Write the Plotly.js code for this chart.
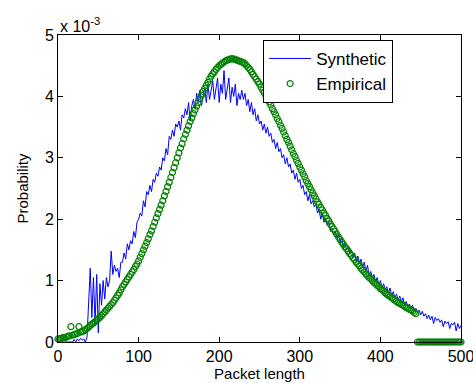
<!DOCTYPE html>
<html>
<head>
<meta charset="utf-8">
<script src="https://cdn.plot.ly/plotly-3.0.1.min.js"></script>
<style>
  html, body { margin: 0; padding: 0; background: #fff; }
  #chart { width: 473px; height: 383px; }
</style>
</head>
<body>
<div id="chart"></div>
<script>
// Packet length grid: starts at 0, step 2
const xStart = 0;
const xStep = 2;

// Probability values in units of 1e-3 (axis multiplier "x 10^-3")
const synthetic = [
  0,0,0,0,0,0,0,0,0,0,
  0.04,0,0.05,0.02,0.06,0.03,0.05,0,0.08,0.6,
  1.2,0.4,1.05,0.3,1.1,0.15,0.95,0.6,1.0,0.7,
  1.05,0.9,1.0,1.48,1.1,1.25,1.15,1.2,1.05,1.3,
  1.3,1.45,1.35,1.6,1.5,1.65,1.6,1.8,1.7,1.95,
  2.0,2.1,2.05,2.3,2.2,2.45,2.4,2.55,2.45,2.65,
  2.6,2.75,2.7,2.85,2.8,3.0,2.95,3.15,3.05,3.35,
  3.3,3.45,3.35,3.55,3.5,3.6,3.45,3.7,3.65,3.8,
  3.7,3.9,3.6,3.85,3.95,3.8,4.05,3.9,4.1,3.85,
  4.0,4.15,3.9,4.2,3.95,4.1,4.25,3.95,4.15,4.3,
  3.9,4.2,4.05,4.42,3.95,4.1,4.3,3.9,4.15,4.0,
  4.2,3.85,4.05,3.95,4.1,3.95,4.05,3.85,3.95,3.75,
  3.9,3.7,3.8,3.6,3.7,3.55,3.6,3.45,3.55,3.4,
  3.5,3.35,3.4,3.25,3.3,3.15,3.25,3.1,3.15,3.0,
  3.05,2.9,3.0,2.85,2.9,2.75,2.8,2.65,2.75,2.6,
  2.65,2.5,2.55,2.4,2.45,2.3,2.4,2.25,2.3,2.2,
  2.25,2.1,2.15,2.0,2.1,1.95,2.0,1.9,1.95,1.8,
  1.85,1.75,1.8,1.7,1.75,1.62,1.7,1.55,1.6,1.5,
  1.55,1.45,1.5,1.38,1.45,1.32,1.4,1.28,1.35,1.22,
  1.3,1.15,1.25,1.08,1.15,1.05,1.1,0.98,1.05,0.92,
  1.0,0.88,0.95,0.85,0.9,0.8,0.88,0.75,0.82,0.72,
  0.78,0.68,0.75,0.65,0.72,0.6,0.66,0.58,0.62,0.55,
  0.6,0.5,0.55,0.48,0.52,0.44,0.5,0.42,0.46,0.38,
  0.44,0.36,0.42,0.3,0.4,0.35,0.38,0.32,0.36,0.25,
  0.34,0.3,0.33,0.22,0.3,0.28,0.32,0.18,0.3,0.22,
  0.27
];

const empirical = [
  0.05,0.05,0.06,0.07,0.07,0.08,0.09,0.10,0.25,0.11,
  0.12,0.13,0.14,0.25,0.16,0.17,0.18,0.20,0.22,0.24,
  0.27,0.29,0.31,0.33,0.35,0.38,0.40,0.43,0.46,0.49,
  0.52,0.55,0.58,0.61,0.64,0.68,0.72,0.76,0.80,0.85,
  0.90,0.94,0.98,1.02,1.06,1.10,1.14,1.18,1.23,1.27,
  1.32,1.38,1.44,1.50,1.56,1.62,1.68,1.75,1.81,1.88,
  1.95,2.02,2.09,2.16,2.23,2.30,2.38,2.45,2.53,2.60,
  2.68,2.76,2.84,2.92,3.00,3.08,3.16,3.23,3.31,3.38,
  3.45,3.52,3.59,3.65,3.72,3.78,3.84,3.90,3.96,4.02,
  4.08,4.13,4.18,4.23,4.28,4.33,4.37,4.40,4.44,4.47,
  4.50,4.52,4.54,4.56,4.58,4.59,4.60,4.61,4.61,4.61,
  4.60,4.59,4.58,4.57,4.56,4.55,4.53,4.50,4.47,4.44,
  4.40,4.36,4.32,4.28,4.24,4.20,4.15,4.10,4.06,4.01,
  3.96,3.91,3.86,3.80,3.75,3.70,3.64,3.59,3.53,3.48,
  3.42,3.36,3.30,3.25,3.19,3.13,3.07,3.02,2.96,2.91,
  2.85,2.80,2.74,2.69,2.63,2.58,2.53,2.48,2.43,2.38,
  2.33,2.28,2.24,2.19,2.15,2.10,2.06,2.01,1.97,1.92,
  1.88,1.84,1.80,1.75,1.71,1.67,1.63,1.59,1.55,1.52,
  1.48,1.44,1.41,1.37,1.34,1.30,1.27,1.24,1.20,1.17,
  1.14,1.11,1.08,1.05,1.03,1.00,0.97,0.95,0.92,0.90,
  0.87,0.85,0.83,0.80,0.78,0.76,0.74,0.72,0.70,0.68,
  0.66,0.64,0.63,0.61,0.60,0.58,0.56,0.55,0.53,0.52,
  0.50,0.48,0.46,0,0,0,0,0,0,0,
  0,0,0,0,0,0,0,0,0,0,
  0,0,0,0,0,0,0,0,0,0,
  0
];

const xTickVals = [0, 100, 200, 300, 400, 500];
const yTickVals = [0, 1, 2, 3, 4, 5];
const seriesNames = ['Synthetic', 'Empirical'];

const FONT = 'Liberation Sans, Arial, Helvetica, sans-serif';

const traces = [
  {
    type: 'scatter', mode: 'lines', name: seriesNames[0],
    x0: xStart, dx: xStep, y: synthetic,
    line: { color: '#0000ff', width: 1 }
  },
  {
    type: 'scatter', mode: 'markers', name: seriesNames[1],
    x0: xStart, dx: xStep, y: empirical,
    cliponaxis: false,
    marker: { symbol: 'circle-open', size: 6, color: '#008000', line: { width: 1.2, color: '#008000' } }
  }
];

const axisCommon = {
  ticks: 'inside', ticklen: 5, tickwidth: 1, tickcolor: '#000',
  showline: true, linecolor: '#000', linewidth: 1, mirror: 'ticks',
  showgrid: false, zeroline: false,
  tickfont: { family: FONT, size: 16, color: '#000' }
};

const layout = {
  width: 473, height: 383,
  margin: { l: 58, r: 12, t: 35, b: 41, pad: 0 },
  paper_bgcolor: '#fff', plot_bgcolor: '#fff',
  font: { family: FONT, size: 16, color: '#000' },
  showlegend: true,
  xaxis: Object.assign({}, axisCommon, {
    range: [0, 500], tickvals: xTickVals, ticktext: xTickVals.map(String),
    ticklabeloverflow: 'allow',
    title: { text: 'Packet length', font: { family: FONT, size: 15, color: '#000' }, standoff: 0 }
  }),
  yaxis: Object.assign({}, axisCommon, {
    range: [0, 5], tickvals: yTickVals, ticktext: yTickVals.map(String),
    title: { text: 'Probability', font: { family: FONT, size: 15, color: '#000' }, standoff: 12 }
  }),
  legend: {
    x: 0.509, y: 0.984, xanchor: 'left', yanchor: 'top',
    bgcolor: '#fff', bordercolor: '#000', borderwidth: 1,
    font: { family: FONT, size: 17, color: '#000' },
    itemwidth: 42,
    tracegroupgap: 0
  },
  annotations: [
    {
      text: 'x 10<sup>-3</sup>', xref: 'paper', yref: 'paper',
      x: 0, y: 1, xanchor: 'left', yanchor: 'bottom', yshift: -2,
      showarrow: false, font: { family: FONT, size: 16, color: '#000' }
    }
  ]
};

Plotly.newPlot('chart', traces, layout, { staticPlot: true, displayModeBar: false });
</script>
</body>
</html>
